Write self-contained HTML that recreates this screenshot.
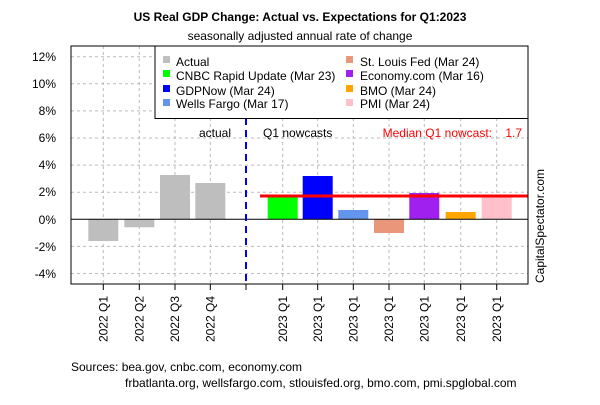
<!DOCTYPE html>
<html><head><style>body{margin:0;background:#fff}svg{font-family:"Liberation Sans",Arial,sans-serif}</style></head><body>
<svg width="600" height="400" xmlns="http://www.w3.org/2000/svg">
<text x="300" y="21" text-anchor="middle" font-size="12" font-weight="bold">US Real GDP Change: Actual vs. Expectations for Q1:2023</text>
<text x="300" y="40" text-anchor="middle" font-size="12">seasonally adjusted annual rate of change</text>
<g stroke="#bbb" stroke-dasharray="3,3" stroke-width="1">
<line x1="71" x2="528" y1="56.7" y2="56.7"/><line x1="71" x2="528" y1="83.8" y2="83.8"/><line x1="71" x2="528" y1="110.9" y2="110.9"/><line x1="71" x2="528" y1="138" y2="138"/><line x1="71" x2="528" y1="165.1" y2="165.1"/><line x1="71" x2="528" y1="192.2" y2="192.2"/><line x1="71" x2="528" y1="246.4" y2="246.4"/><line x1="71" x2="528" y1="273.5" y2="273.5"/>
<line x1="103.3" x2="103.3" y1="46" y2="284"/><line x1="139.3" x2="139.3" y1="46" y2="284"/><line x1="175" x2="175" y1="46" y2="284"/><line x1="210.3" x2="210.3" y1="46" y2="284"/><line x1="282.7" x2="282.7" y1="46" y2="284"/><line x1="317.7" x2="317.7" y1="46" y2="284"/><line x1="353.3" x2="353.3" y1="46" y2="284"/><line x1="389" x2="389" y1="46" y2="284"/><line x1="424.3" x2="424.3" y1="46" y2="284"/><line x1="460.7" x2="460.7" y1="46" y2="284"/><line x1="496.7" x2="496.7" y1="46" y2="284"/>
</g>
<g>
<rect x="88.3" y="219.3" width="30" height="21.7" fill="#bebebe"/>
<rect x="124.3" y="219.3" width="30" height="8" fill="#bebebe"/>
<rect x="160" y="175" width="30" height="44.3" fill="#bebebe"/>
<rect x="195.3" y="183" width="30" height="36.3" fill="#bebebe"/>
<rect x="267.7" y="196" width="30" height="23.3" fill="#00ff00"/>
<rect x="302.7" y="176" width="30" height="43.3" fill="#0000ff"/>
<rect x="338.3" y="210" width="30" height="9.3" fill="#6495ed"/>
<rect x="374" y="219.3" width="30" height="13.7" fill="#e9967a"/>
<rect x="409.3" y="193" width="30" height="26.3" fill="#a020f0"/>
<rect x="445.7" y="212" width="30" height="7.3" fill="#ffa500"/>
<rect x="481.7" y="197" width="30" height="22.3" fill="#ffc0cb"/>
</g>
<line x1="71" x2="528" y1="219.3" y2="219.3" stroke="#000"/>
<line x1="246" x2="246" y1="46" y2="284" stroke="#0000ff" stroke-width="2" stroke-dasharray="7,5"/>
<line x1="260" x2="528" y1="196" y2="196" stroke="#ff0000" stroke-width="3"/>
<rect x="155" y="46" width="373" height="72.5" fill="#fff" stroke="#000"/>
<g font-size="12">
<rect x="163" y="56" width="7" height="7" fill="#bebebe"/><text x="176" y="66">Actual</text>
<rect x="163" y="70" width="7" height="7" fill="#00ff00"/><text x="176" y="80">CNBC Rapid Update (Mar 23)</text>
<rect x="163" y="85" width="7" height="7" fill="#0000ff"/><text x="176" y="95">GDPNow (Mar 24)</text>
<rect x="163" y="99" width="7" height="7" fill="#6495ed"/><text x="176" y="108">Wells Fargo (Mar 17)</text>
<rect x="346" y="56" width="7" height="7" fill="#e9967a"/><text x="360" y="66">St. Louis Fed (Mar 24)</text>
<rect x="346" y="70" width="7" height="7" fill="#a020f0"/><text x="360" y="80">Economy.com (Mar 16)</text>
<rect x="346" y="85" width="7" height="7" fill="#ffa500"/><text x="360" y="95">BMO (Mar 24)</text>
<rect x="346" y="99" width="7" height="7" fill="#ffc0cb"/><text x="360" y="108">PMI (Mar 24)</text>
<text x="231" y="137" text-anchor="end">actual</text>
<text x="263" y="137">Q1 nowcasts</text>
<text x="492" y="137" text-anchor="end" fill="#ff0000">Median Q1 nowcast:</text>
<text x="522" y="137" text-anchor="end" fill="#ff0000">1.7</text>
</g>
<rect x="71" y="46" width="457" height="238" fill="none" stroke="#000"/>
<g font-size="12" text-anchor="end">
<text x="56" y="61">12%</text><text x="56" y="88">10%</text><text x="56" y="115">8%</text><text x="56" y="142">6%</text><text x="56" y="169">4%</text><text x="56" y="196">2%</text><text x="56" y="224">0%</text><text x="56" y="251">-2%</text><text x="56" y="278">-4%</text>
</g>
<g stroke="#000"><line x1="103.3" x2="103.3" y1="284" y2="290"/><line x1="139.3" x2="139.3" y1="284" y2="290"/><line x1="175" x2="175" y1="284" y2="290"/><line x1="210.3" x2="210.3" y1="284" y2="290"/><line x1="246" x2="246" y1="284" y2="290"/><line x1="282.7" x2="282.7" y1="284" y2="290"/><line x1="317.7" x2="317.7" y1="284" y2="290"/><line x1="353.3" x2="353.3" y1="284" y2="290"/><line x1="389" x2="389" y1="284" y2="290"/><line x1="424.3" x2="424.3" y1="284" y2="290"/><line x1="460.7" x2="460.7" y1="284" y2="290"/><line x1="496.7" x2="496.7" y1="284" y2="290"/></g>
<g font-size="12" text-anchor="end">
<text transform="translate(107.5,296) rotate(-90)">2022 Q1</text>
<text transform="translate(143.5,296) rotate(-90)">2022 Q2</text>
<text transform="translate(179.2,296) rotate(-90)">2022 Q3</text>
<text transform="translate(214.5,296) rotate(-90)">2022 Q4</text>
<text transform="translate(286.9,296) rotate(-90)">2023 Q1</text>
<text transform="translate(321.9,296) rotate(-90)">2023 Q1</text>
<text transform="translate(357.5,296) rotate(-90)">2023 Q1</text>
<text transform="translate(393.2,296) rotate(-90)">2023 Q1</text>
<text transform="translate(428.5,296) rotate(-90)">2023 Q1</text>
<text transform="translate(464.9,296) rotate(-90)">2023 Q1</text>
<text transform="translate(500.9,296) rotate(-90)">2023 Q1</text>
</g>
<text transform="translate(544,283) rotate(-90)" font-size="12">CapitalSpectator.com</text>
<text x="71" y="371" font-size="12">Sources: bea.gov, cnbc.com, economy.com</text>
<text x="125" y="387" font-size="12">frbatlanta.org, wellsfargo.com, stlouisfed.org, bmo.com, pmi.spglobal.com</text>
</svg>
</body></html>
